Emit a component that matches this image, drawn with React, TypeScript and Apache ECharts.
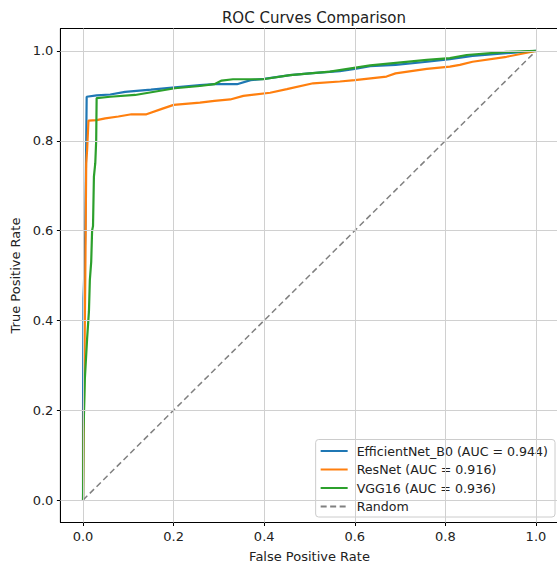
import React, { useEffect, useRef } from "react";
import * as echarts from "echarts";

const tickValues = [0, 0.2, 0.4, 0.6, 0.8, 1.0];

const effFpr = [0, 0, 0.001, 0.002, 0.005, 0.007, 0.008, 0.03, 0.06, 0.093, 0.15, 0.203, 0.258, 0.29, 0.34, 0.37, 0.4, 0.457, 0.5, 0.567, 0.6, 0.634, 0.69, 0.76, 0.81, 0.86, 0.935, 1.0];
const effTpr = [0, 0.2, 0.45, 0.48, 0.6, 0.8, 0.898, 0.901, 0.903, 0.909, 0.914, 0.919, 0.924, 0.926, 0.926, 0.935, 0.938, 0.946, 0.95, 0.955, 0.96, 0.966, 0.969, 0.976, 0.982, 0.989, 0.995, 1.0];

const resFpr = [0, 0.001, 0.003, 0.005, 0.007, 0.009, 0.012, 0.03, 0.049, 0.078, 0.107, 0.14, 0.174, 0.2, 0.258, 0.29, 0.325, 0.354, 0.413, 0.45, 0.508, 0.567, 0.6, 0.67, 0.69, 0.759, 0.81, 0.832, 0.86, 0.935, 1.0];
const resTpr = [0, 0.13, 0.3, 0.5, 0.75, 0.78, 0.845, 0.846, 0.85, 0.854, 0.859, 0.859, 0.871, 0.88, 0.885, 0.889, 0.892, 0.9, 0.907, 0.915, 0.928, 0.932, 0.935, 0.943, 0.95, 0.96, 0.965, 0.969, 0.976, 0.987, 1.0];

const vggFpr = [0, 0.001, 0.004, 0.009, 0.013, 0.015, 0.018, 0.02, 0.022, 0.024, 0.027, 0.029, 0.03, 0.06, 0.115, 0.203, 0.258, 0.29, 0.306, 0.331, 0.397, 0.457, 0.545, 0.634, 0.759, 0.81, 0.847, 0.935, 1.0];
const vggTpr = [0, 0.15, 0.27, 0.36, 0.42, 0.49, 0.53, 0.6, 0.61, 0.72, 0.75, 0.8, 0.895, 0.898, 0.902, 0.917, 0.922, 0.926, 0.934, 0.937, 0.937, 0.946, 0.954, 0.968, 0.98, 0.984, 0.991, 0.998, 1.0];

const randFpr = [0, 1];
const randTpr = [0, 1];

const seriesNames = [
  "EfficientNet_B0 (AUC = 0.944)",
  "ResNet (AUC = 0.916)",
  "VGG16 (AUC = 0.936)",
  "Random",
];

const zip = (xs: number[], ys: number[]) => xs.map((x, i) => [x, ys[i]]);

const FONT = "DejaVu Sans";

export default function App() {
  const ref = useRef<HTMLDivElement>(null);
  useEffect(() => {
    if (!ref.current) return;
    const chart = echarts.init(ref.current, undefined, { renderer: "svg" });
    const axisCommon = {
      type: "value" as const,
      min: -0.05,
      max: 1.05,
      splitLine: { show: false },
      axisLine: { show: true, onZero: false, lineStyle: { color: "#000", width: 1 } },
      axisTick: {
        show: true,
        customValues: tickValues,
        length: 3.5,
        lineStyle: { color: "#000", width: 1 },
      },
      axisLabel: {
        customValues: tickValues,
        formatter: (v: number) => v.toFixed(1),
        color: "#222",
        fontSize: 13,
        fontFamily: FONT,
      },
      nameLocation: "middle" as const,
      nameTextStyle: { color: "#222", fontSize: 13, fontFamily: FONT },
    };
    chart.setOption({
      animation: false,
      backgroundColor: "#fff",
      title: {
        text: "ROC Curves Comparison",
        left: 309,
        top: 5,
        textAlign: "center",
        textStyle: { color: "#222", fontSize: 15, fontWeight: "normal", fontFamily: FONT },
      },
      grid: {
        left: 60.4,
        right: 1.4,
        top: 28.5,
        bottom: 42.5,
        outerBoundsMode: "none",
        show: true,
        borderColor: "#000",
        borderWidth: 1,
        backgroundColor: "transparent",
      },
      xAxis: {
        ...axisCommon,
        name: "False Positive Rate",
        nameGap: 27,
        axisLabel: { ...axisCommon.axisLabel, margin: 7 },
      },
      yAxis: {
        ...axisCommon,
        name: "True Positive Rate",
        nameGap: 36,
        axisLabel: { ...axisCommon.axisLabel, margin: 7 },
      },
      legend: {
        data: seriesNames,
        orient: "vertical",
        right: 5,
        bottom: 48,
        itemWidth: 27,
        itemHeight: 14,
        itemGap: 5.5,
        padding: [5, 7, 4, 4],
        backgroundColor: "rgba(255,255,255,0.85)",
        borderColor: "#cccccc",
        borderWidth: 1,
        borderRadius: 3,
        itemStyle: { opacity: 0 },
        textStyle: { color: "#222", fontSize: 12.6, fontFamily: FONT, padding: [0, 0, 0, 4] },
      },
      series: [
        {
          name: "grid",
          type: "line",
          data: [],
          silent: true,
          z: 1,
          markLine: {
            silent: true,
            symbol: "none",
            label: { show: false },
            lineStyle: { color: "#d0d0d0", width: 1, type: "solid" },
            data: [
              ...tickValues.map((v) => ({ xAxis: v })),
              ...tickValues.map((v) => ({ yAxis: v })),
            ],
          },
        },
        {
          name: seriesNames[0],
          type: "line",
          data: zip(effFpr, effTpr),
          showSymbol: false,
          symbol: "none",
          z: 3,
          color: "#1f77b4",
          lineStyle: { color: "#1f77b4", width: 2.2 },
        },
        {
          name: seriesNames[1],
          type: "line",
          data: zip(resFpr, resTpr),
          showSymbol: false,
          symbol: "none",
          z: 3,
          color: "#ff7f0e",
          lineStyle: { color: "#ff7f0e", width: 2.2 },
        },
        {
          name: seriesNames[2],
          type: "line",
          data: zip(vggFpr, vggTpr),
          showSymbol: false,
          symbol: "none",
          z: 3,
          color: "#2ca02c",
          lineStyle: { color: "#2ca02c", width: 2.2 },
        },
        {
          name: seriesNames[3],
          type: "line",
          data: zip(randFpr, randTpr),
          showSymbol: false,
          symbol: "none",
          z: 3,
          color: "#808080",
          lineStyle: { color: "#808080", width: 1.5, type: [6, 3.5] },
        },
      ],
    });
    return () => chart.dispose();
  }, []);
  return (
    <div
      ref={ref}
      style={{ position: "fixed", left: 0, top: 0, width: 560, height: 565 }}
    />
  );
}
